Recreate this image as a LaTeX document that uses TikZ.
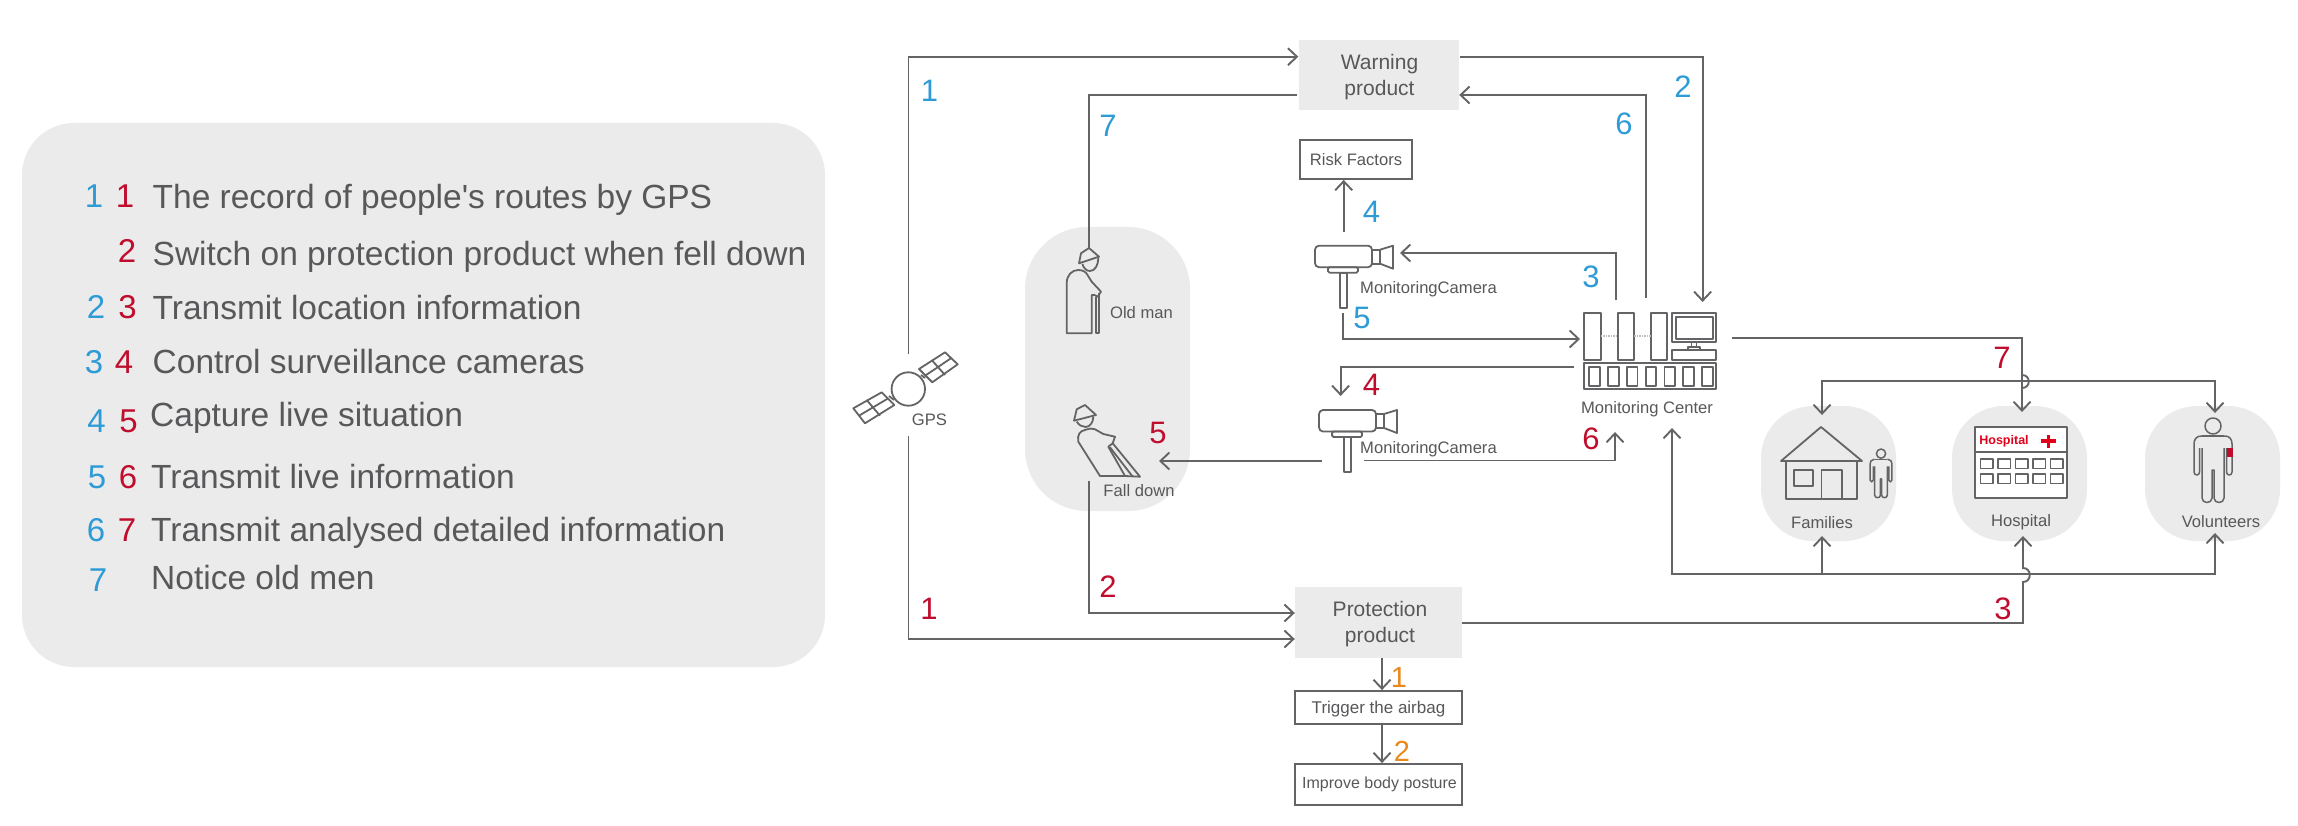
\documentclass[tikz,border=0pt]{standalone}
\usepackage{fontspec}
\setmainfont{Liberation Sans}
\newfontfamily\plainapos{Liberation Sans}
\usetikzlibrary{arrows.meta,calc}
\definecolor{ink}{HTML}{58585A}
\definecolor{wire}{HTML}{646466}
\definecolor{panelgray}{HTML}{EBEBEB}
\definecolor{nblue}{HTML}{2E9BD6}
\definecolor{nred}{HTML}{C00D2D}
\definecolor{norange}{HTML}{E8891C}
\definecolor{hred}{HTML}{E2001A}
\tikzset{
  conn/.style={draw=wire,line width=1.9pt,line join=miter},
  arr/.style={conn,-{Straight Barb[length=9pt,width=17pt,line width=1.9pt]}},
  biarr/.style={conn,{Straight Barb[length=9pt,width=17pt,line width=1.9pt]}-{Straight Barb[length=9pt,width=17pt,line width=1.9pt]}},
  icon/.style={draw=wire,line width=1.8pt,line join=round},
  thin icon/.style={draw=wire,line width=1.5pt,line join=round},
  softpanel/.style={fill=panelgray,draw=none},
  graybox/.style={fill=panelgray,draw=none,inner sep=0pt,align=center,text=ink,font=\fontsize{21}{25.5}\selectfont},
  linebox/.style={draw=wire,line width=1.8pt,fill=white,inner sep=0pt,align=center,text=ink,font=\fontsize{16.6}{20}\selectfont},
  lab/.style={inner sep=0pt,text=ink,font=\fontsize{16.6}{20}\selectfont},
  legend/.style={inner sep=0pt,anchor=base west,text=ink,font=\fontsize{33.5}{40}\selectfont},
  numL/.style={inner sep=0pt,anchor=base,font=\fontsize{33}{40}\selectfont},
  numD/.style={inner sep=0pt,font=\fontsize{31}{37}\selectfont},
  numO/.style={inner sep=0pt,text=norange,font=\fontsize{29}{35}\selectfont},
}
\newcommand{\drawcam}[2]{%
  \begin{scope}[shift={(#1,#2)}]
    \draw[icon,rounded corners=4pt] (0,0) rectangle (57,21.5);
    \draw[icon] (57,4) rectangle (65,18);
    \draw[icon] (65,4) -- (78,0) -- (78,23) -- (65,18);
    \draw[icon,rounded corners=1.5pt] (13,21.5) rectangle (43,27);
    \draw[icon] (25,27) rectangle (32,62);
  \end{scope}}
\newcommand{\drawperson}[3]{%
  \begin{scope}[shift={(#1,#2)},scale=#3]
    \draw[thin icon] (0,8) circle[radius=8];
    \draw[thin icon] (-11,18) -- (-12,18) .. controls (-17,18) and (-19,22) .. (-19,26) -- (-19,54)
      .. controls (-19,58) and (-13.5,58) .. (-13.5,54) -- (-13.5,30);
    \draw[thin icon] (11,18) -- (12,18) .. controls (17,18) and (19,22) .. (19,26) -- (19,54)
      .. controls (19,58) and (13.5,58) .. (13.5,54) -- (13.5,30);
    \draw[thin icon] (-11,18) -- (11,18);
    \draw[thin icon] (-11,30) -- (-11,80) .. controls (-11,86) and (-1,86) .. (-1,80) -- (-1,52) -- (1,52) -- (1,80)
      .. controls (1,86) and (11,86) .. (11,80) -- (11,30);
  \end{scope}}
\begin{document}
\begin{tikzpicture}[x=1pt,y=-1pt]
\useasboundingbox (0,0) rectangle (2298,826);
\fill[white] (0,0) rectangle (2298,826);

% ---------- legend ----------
\fill[softpanel,rounded corners=52pt] (22,123) rectangle (825,667);
\node[legend] (lt1) at (152.5,208.5) {{\plainapos The record of people's routes by GPS}};
\node[legend] (lt2) at (152.5,265.5) {Switch on protection product when fell down};
\node[legend] (lt3) at (152.5,319) {Transmit location information};
\node[legend] (lt4) at (152.5,373) {Control surveillance cameras};
\node[legend] (lt5) at (150,426.5) {Capture live situation};
\node[legend] (lt6) at (151,488) {Transmit live information};
\node[legend] (lt7) at (151,541) {Transmit analysed detailed information};
\node[legend] (lt8) at (151,589) {Notice old men};
\node[numL,text=nblue] (lb1) at (94,208) {1};
\node[numL,text=nred]  (lr1) at (125,208) {1};
\node[numL,text=nred]  (lr2) at (127,262) {2};
\node[numL,text=nblue] (lb2) at (96,318) {2};
\node[numL,text=nred]  (lr3) at (127.5,318) {3};
\node[numL,text=nblue] (lb3) at (94,373) {3};
\node[numL,text=nred]  (lr4) at (124,373) {4};
\node[numL,text=nblue] (lb4) at (96.5,432) {4};
\node[numL,text=nred]  (lr5) at (128.5,432) {5};
\node[numL,text=nblue] (lb5) at (97,488) {5};
\node[numL,text=nred]  (lr6) at (128,488) {6};
\node[numL,text=nblue] (lb6) at (96,541) {6};
\node[numL,text=nred]  (lr7) at (127,541) {7};
\node[numL,text=nblue] (lb7) at (98,591) {7};

% ---------- soft panels ----------
\fill[softpanel,rounded corners=62pt] (1025,227) rectangle (1190,511);
\fill[softpanel,rounded corners=52pt] (1761,406) rectangle (1896,541);
\fill[softpanel,rounded corners=52pt] (1952,406) rectangle (2087,541);
\fill[softpanel,rounded corners=52pt] (2145,406) rectangle (2280,541);

% ---------- boxes ----------
\node[graybox,minimum width=160pt,minimum height=70pt] (warn) at (1378.5,75) {\rule{0pt}{19pt}\hspace*{2pt}Warning\\\hspace*{2pt}product};
\node[graybox,minimum width=167pt,minimum height=71pt] (prot) at (1378.5,622.5) {\rule{0pt}{18pt}\hspace*{3pt}Protection\\\hspace*{3pt}product};
\node[linebox,minimum width=112pt,minimum height=39pt] (risk) at (1356,159.5) {Risk Factors};
\node[linebox,minimum width=167pt,minimum height=33pt,font=\fontsize{17}{20}\selectfont] (trig) at (1378.5,707.5) {\rule{0pt}{16.5pt}Trigger the airbag};
\node[linebox,minimum width=167pt,minimum height=41pt,font=\fontsize{16}{20}\selectfont] (impr) at (1378.5,784.5) {\hspace*{2pt}Improve body posture};

% ---------- satellite ----------
\draw[icon] (908.3,389) circle[radius=16.7];
\draw[icon] (919,369) -- (945,352.3) -- (957.7,364.3) -- (932.3,382.3) -- cycle;
\draw[icon] (931.7,360) -- (945,375);
\draw[icon] (925,375.7) -- (951,358.3);
\draw[icon] (853.3,408.3) -- (881.7,392.3) -- (894.3,405) -- (865,423.3) -- cycle;
\draw[icon] (866.7,400) -- (880,415.7);
\draw[icon] (859,415.7) -- (888.3,398.3);
\draw[icon] (921,375) -- (925,378);
\draw[icon] (889,396) -- (894,400);
\node[lab] (gpslabel) at (929.5,420) {GPS};

% ---------- old man ----------
\draw[icon] (1079,263.3) -- (1081,253.3) -- (1089,248) -- (1099,256.7) -- cycle;
\draw[icon] (1082.3,264) .. controls (1084,269) and (1087,271) .. (1090,271) .. controls (1095,271) and (1098.3,265) .. (1098.3,258);
\draw[icon] (1066.7,333.3) -- (1066.7,283.3) .. controls (1066.7,275) and (1072,270) .. (1078.3,270) .. controls (1083,270) and (1086,272) .. (1087.5,275)
  -- (1091.7,281.7) -- (1101,291.7) -- (1097.7,296.7) -- (1094.3,295) -- (1091.7,295) -- (1091.7,333.3) -- cycle;
\draw[icon] (1096,296.5) -- (1096,333.3) -- (1099.3,333.3) -- (1099.3,293);
\node[lab] (oldlabel) at (1141.5,313) {Old man};

% ---------- fallen man ----------
\draw[icon] (1074,420.7) -- (1076.7,409.3) -- (1085,405) -- (1096,415) -- cycle;
\draw[icon] (1076.7,421.7) .. controls (1079,425) and (1082,427) .. (1085.5,427) .. controls (1090,427) and (1093.3,422) .. (1093.3,416.7);
\draw[icon] (1100,476) -- (1078.3,441.7) .. controls (1077,435) and (1080,430.7) .. (1085,430) .. controls (1090,428) and (1093,428.5) .. (1095,429.3)
  -- (1103.3,434) -- (1115,436.7) -- (1112.7,443.3) -- (1108.3,446.7) -- (1125,476) -- cycle;
\draw[icon] (1110,447.3) -- (1132.7,476.7);
\draw[icon] (1112.7,443.3) -- (1140,476.7) -- (1125,476);
\node[lab] (falllabel) at (1139,491) {Fall down};

% ---------- cameras ----------
\drawcam{1315}{245.7}
\drawcam{1319}{410}
\node[lab,anchor=west] (cam1label) at (1360,289) {MonitoringCamera};
\node[lab,anchor=west] (cam2label) at (1360,449) {MonitoringCamera};

% ---------- monitoring center ----------
\draw[icon] (1584,313.3) rectangle (1600.7,360);
\draw[icon] (1617.7,313.3) rectangle (1634,360);
\draw[icon] (1651,313.3) rectangle (1667.3,360);
\draw[draw=black!25,line width=1.5pt,densely dotted] (1600.7,336) -- (1617.7,336) (1634,336) -- (1651,336);
\draw[icon] (1671.7,313.3) rectangle (1716,342.3);
\draw[icon] (1675.7,316.7) rectangle (1712.7,339);
\draw[thin icon] (1691.7,342.3) -- (1691.7,346.7) (1696.7,342.3) -- (1696.7,346.7);
\draw[icon] (1687.7,346.7) rectangle (1700,350);
\draw[icon] (1671.7,350) rectangle (1716,360);
\draw[icon] (1584,363.3) rectangle (1716,389.3);
\foreach \i in {0,...,6} {\draw[icon] ({1589.3+18.8*\i},367.3) rectangle ({1599.8+18.8*\i},386);}
\node[lab] (centerlabel) at (1647,409) {Monitoring Center};

% ---------- families ----------
\draw[icon] (1781,461) -- (1821,427) -- (1862,461) -- cycle;
\draw[icon] (1786,461) -- (1786,499) -- (1857,499) -- (1857,461);
\draw[icon] (1794,470) rectangle (1813,486);
\draw[icon] (1821.5,499) -- (1821.5,470) -- (1842,470) -- (1842,499);
\drawperson{1881}{449}{0.576}
\node[lab] (famlabel) at (1822,523) {Families};

% ---------- hospital ----------
\draw[icon,fill=white] (1975,427) rectangle (2067,498);
\draw[icon] (1975,452) -- (2067,452);
\foreach \r in {459,474} {\foreach \c in {0,...,4} {\draw[thin icon] ({1980.5+17.5*\c},\r) rectangle ({1993+17.5*\c},\r+9.7);}}
\node[inner sep=0pt,text=hred,font=\fontsize{12.5}{15}\selectfont\bfseries] (hosptext) at (2004,441) {Hospital};
\fill[hred] (2041,439) rectangle (2055.5,443);
\fill[hred] (2046.5,434.5) rectangle (2050,447.5);
\node[lab] (hosplabel) at (2021,522) {Hospital};

% ---------- volunteers ----------
\drawperson{2213}{418}{1}
\fill[nred] (2226.5,448) rectangle (2232.5,457);
\node[lab] (vollabel) at (2221,522) {Volunteers};

% ---------- named free ends ----------
\coordinate (gpsN) at (908.5,354);
\coordinate (gpsS) at (908.5,436);
\coordinate (warnInA) at ($(warn.west)+(0,-18.3)$);
\coordinate (warnOutA) at ($(warn.east)+(1.5,-18.3)$);
\coordinate (warnInB) at ($(warn.east)+(0.5,20)$);
\coordinate (warnOutB) at ($(warn.west)+(-1,20)$);
\coordinate (oldHead) at (1089,248);
\coordinate (fallFoot) at (1089,481);
\coordinate (fallSide) at (1159,461);
\coordinate (riskIn) at (risk.south -| 1343.7,0);
\coordinate (cam1Top) at (1343.7,232);
\coordinate (cam1Side) at (1400,253);
\coordinate (cam1Foot) at (1343,313);
\coordinate (cam2Top) at (1340.6,396);
\coordinate (cam2L) at (1322,461);
\coordinate (cam2R) at (1364,460.5);
\coordinate (ctrOutCam) at (1616,300);
\coordinate (ctrOutWarn) at (1646,298);
\coordinate (ctrInWarn) at (1702.6,302);
\coordinate (ctrInCam) at (1580,339);
\coordinate (ctrOutCamB) at (1574,367);
\coordinate (ctrInCamB) at (1615,432);
\coordinate (ctrInLow) at (1672,428);
\coordinate (ctrOutSeven) at (1732,338);
\coordinate (protInA) at ($(prot.west)+(0,-9.5)$);
\coordinate (protInB) at ($(prot.west)+(0,16.5)$);
\coordinate (protOut) at ($(prot.east)+(0,0.5)$);
\coordinate (protDown) at ($(prot.south)+(3.5,0)$);
\coordinate (trigIn) at ($(trig.north)+(3.5,0)$);
\coordinate (trigDown) at ($(trig.south)+(3.5,0)$);
\coordinate (imprIn) at ($(impr.north)+(3.5,0)$);
\coordinate (famTop) at (1822,415);
\coordinate (famBot) at (1822,536);
\coordinate (famLow) at (1822,574);
\coordinate (hospTop) at (2022,412);
\coordinate (hospBot) at (2023,536);
\coordinate (volTop) at (2215,413);
\coordinate (volBot) at (2215,533);

% ---------- connectors ----------
\draw[arr] (gpsN) |- (warnInA);
\draw[arr] (warnOutA) -| (ctrInWarn);
\draw[arr] (ctrOutWarn) |- (warnInB);
\draw[conn] (warnOutB) -| (oldHead);
\draw[arr] (ctrOutCam) |- (cam1Side);
\draw[arr] (cam1Top) -- (riskIn);
\draw[arr] (cam1Foot) |- (ctrInCam);
\draw[arr] (ctrOutCamB) -| (cam2Top);
\draw[arr] (cam2L) -- (fallSide);
\draw[arr] (cam2R) -| (ctrInCamB);
\draw[arr] (fallFoot) |- (protInA);
\draw[arr] (gpsS) |- (protInB);
\draw[arr] (protOut) -| (2023,582) .. controls (2032,582) and (2032,568) .. (2023,568) -- (hospBot);
\draw[arr] (ctrOutSeven) -| (2022,388) .. controls (2031,388) and (2031,375) .. (2022,375) -- (hospTop);
\draw[biarr] (famTop) |- (2215,381) -- (volTop);
\draw[biarr] (ctrInLow) |- (2215,574) -- (volBot);
\draw[arr] (famLow) -- (famBot);
\draw[arr] (protDown) -- (trigIn);
\draw[arr] (trigDown) -- (imprIn);

% ---------- step numbers ----------
\node[numD,text=nblue] (d1) at (929.5,91) {1};
\node[numD,text=nblue] (d7) at (1108,126) {7};
\node[numD,text=nblue] (d2) at (1683,87) {2};
\node[numD,text=nblue] (d6) at (1624,124) {6};
\node[numD,text=nblue] (d4) at (1371.5,212) {4};
\node[numD,text=nblue] (d3) at (1591,277) {3};
\node[numD,text=nblue] (d5) at (1362,318) {5};
\node[numD,text=nred] (e4) at (1371.5,385) {4};
\node[numD,text=nred] (e5) at (1158,433) {5};
\node[numD,text=nred] (e6) at (1591,439) {6};
\node[numD,text=nred] (e7) at (2002,358) {7};
\node[numD,text=nred] (e2) at (1108,587) {2};
\node[numD,text=nred] (e1) at (929,609) {1};
\node[numD,text=nred] (e3) at (2003,609) {3};
\node[numO] (o1) at (1399,678) {1};
\node[numO] (o2) at (1402,751) {2};
\end{tikzpicture}
\end{document}
